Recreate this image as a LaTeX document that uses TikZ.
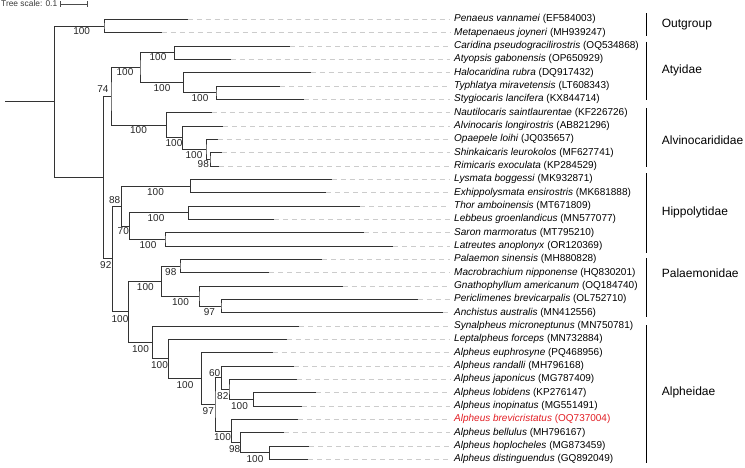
\documentclass[tikz,border=0pt]{standalone}
\usepackage{fontspec}
\setmainfont{Liberation Sans}
\usepackage{tikz}
\definecolor{hilite}{RGB}{226,30,36}

\begin{document}
\begin{tikzpicture}[x=1pt, y=-1pt,
    branch/.style={draw=black!80, line width=0.9pt},
    guide/.style={draw=black!20, line width=0.6pt, dash pattern=on 5pt off 4pt},
    boot/.style={inner sep=0pt, text=black!85, font=\fontsize{10}{12}\selectfont},
    taxon/.style={anchor=west, inner xsep=4pt, inner ysep=0pt, font=\fontsize{10}{12}\selectfont},
    cladebar/.style={draw=black, line width=1pt},
    clade/.style={anchor=west, inner sep=0pt, font=\fontsize{12}{14}\selectfont}]
  \useasboundingbox (0,0) rectangle (745,467);

  % tree scale
  \node[anchor=west, inner sep=0pt, text=black!78, font=\fontsize{8.4}{10}\selectfont] (scaletxt) at (1,3.5) {Tree scale: 0.1};
  \coordinate (scaleL) at (60,4);
  \coordinate (scaleR) at (87.3,4);
  \draw[black!70, line width=0.6pt, |-|] (scaleL) -- (scaleR);

  % tips
  \coordinate (pvan) at (187.7,19.3);
  \coordinate (mjoy) at (161.7,32.6);
  \coordinate (cpse) at (290,46);
  \coordinate (agab) at (230.7,59.3);
  \coordinate (hrub) at (310.7,72.6);
  \coordinate (tmir) at (280,86);
  \coordinate (slan) at (304,99.3);
  \coordinate (nsai) at (211.7,112.6);
  \coordinate (alon) at (223.3,126);
  \coordinate (oloi) at (217.7,139.3);
  \coordinate (sleu) at (221.7,152.6);
  \coordinate (rexo) at (219.3,166);
  \coordinate (lbog) at (331.7,179.3);
  \coordinate (eens) at (326,192.6);
  \coordinate (tamb) at (360,206);
  \coordinate (lgro) at (274.3,219.3);
  \coordinate (smar) at (364,232.6);
  \coordinate (lano) at (393.3,246);
  \coordinate (psin) at (322.3,259.3);
  \coordinate (mnip) at (269.3,272.6);
  \coordinate (game) at (342.7,286);
  \coordinate (pbre) at (417.7,299.3);
  \coordinate (aaus) at (443.3,312.6);
  \coordinate (smic) at (299.3,326);
  \coordinate (lfor) at (286.7,339.3);
  \coordinate (aeup) at (272.7,352.6);
  \coordinate (aran) at (294,366);
  \coordinate (ajap) at (296.7,379.3);
  \coordinate (alob) at (316,392.6);
  \coordinate (aino) at (301.7,406);
  \coordinate (abre) at (297.7,419.3);
  \coordinate (abel) at (284,432.6);
  \coordinate (ahop) at (309,446);
  \coordinate (adis) at (308.3,459.3);

  % inner nodes
  \coordinate (rstem) at (5,101.8);
  \coordinate (root) at (54.3,101.8);
  \coordinate (outg) at (104,26);
  \coordinate (ingr) at (103.3,177.6);
  \coordinate (atal) at (111,96.4);
  \coordinate (aty) at (140,67.6);
  \coordinate (aty1) at (174.3,52.6);
  \coordinate (aty2) at (183.3,82.6);
  \coordinate (aty3) at (216,92.6);
  \coordinate (alv) at (166.3,125.2);
  \coordinate (alv1) at (182.7,137.7);
  \coordinate (alv2) at (206,149.3);
  \coordinate (alv3) at (210,159.3);
  \coordinate (hpa) at (112.7,258.9);
  \coordinate (hip) at (121.7,206);
  \coordinate (hip1) at (190.7,186);
  \coordinate (hip2) at (129.3,226);
  \coordinate (hip3) at (188.3,212.6);
  \coordinate (hip4) at (165,239.3);
  \coordinate (paal) at (128.3,311.7);
  \coordinate (pal) at (161.7,281);
  \coordinate (pal1) at (180,266);
  \coordinate (pal2) at (199,296);
  \coordinate (pal3) at (221,306);
  \coordinate (alp) at (152.7,342.5);
  \coordinate (alp1) at (168.3,358.9);
  \coordinate (alp2) at (201.7,378.5);
  \coordinate (alp3) at (215,404.3);
  \coordinate (alp4) at (221.7,377.6);
  \coordinate (alp5) at (229,389.3);
  \coordinate (alp6) at (253.3,399.3);
  \coordinate (alp7) at (231.7,431);
  \coordinate (alp8) at (240.7,442.6);
  \coordinate (alp9) at (269.3,452.6);

  % branches
  \draw[branch] (rstem) -- (root);
  \draw[branch] (outg) -| (root) |- (ingr);
  \draw[branch] (pvan) -| (outg) |- (mjoy);
  \draw[branch] (atal) -| (ingr) |- (hpa);
  \draw[branch] (aty) -| (atal) |- (alv);
  \draw[branch] (aty1) -| (aty) |- (aty2);
  \draw[branch] (cpse) -| (aty1) |- (agab);
  \draw[branch] (hrub) -| (aty2) |- (aty3);
  \draw[branch] (tmir) -| (aty3) |- (slan);
  \draw[branch] (nsai) -| (alv) |- (alv1);
  \draw[branch] (alon) -| (alv1) |- (alv2);
  \draw[branch] (oloi) -| (alv2) |- (alv3);
  \draw[branch] (sleu) -| (alv3) |- (rexo);
  \draw[branch] (hip) -| (hpa) |- (paal);
  \draw[branch] (hip1) -| (hip) |- (hip2);
  \draw[branch] (lbog) -| (hip1) |- (eens);
  \draw[branch] (hip3) -| (hip2) |- (hip4);
  \draw[branch] (tamb) -| (hip3) |- (lgro);
  \draw[branch] (smar) -| (hip4) |- (lano);
  \draw[branch] (pal) -| (paal) |- (alp);
  \draw[branch] (pal1) -| (pal) |- (pal2);
  \draw[branch] (psin) -| (pal1) |- (mnip);
  \draw[branch] (game) -| (pal2) |- (pal3);
  \draw[branch] (pbre) -| (pal3) |- (aaus);
  \draw[branch] (smic) -| (alp) |- (alp1);
  \draw[branch] (lfor) -| (alp1) |- (alp2);
  \draw[branch] (aeup) -| (alp2) |- (alp3);
  \draw[branch] (alp4) -| (alp3) |- (alp7);
  \draw[branch] (aran) -| (alp4) |- (alp5);
  \draw[branch] (ajap) -| (alp5) |- (alp6);
  \draw[branch] (alob) -| (alp6) |- (aino);
  \draw[branch] (abre) -| (alp7) |- (alp8);
  \draw[branch] (abel) -| (alp8) |- (alp9);
  \draw[branch] (ahop) -| (alp9) |- (adis);

  % bootstrap values
  \node[boot] (b-outg) at (81.7,31) {100};
  \node[boot] (b-atal) at (103,89.5) {74};
  \node[boot] (b-aty) at (125,72.5) {100};
  \node[boot] (b-aty1) at (158,57.5) {100};
  \node[boot] (b-aty2) at (162,88) {100};
  \node[boot] (b-aty3) at (200,98) {100};
  \node[boot] (b-alv) at (138.5,130.5) {100};
  \node[boot] (b-alv1) at (174,143) {100};
  \node[boot] (b-alv2) at (194,155) {100};
  \node[boot] (b-alv3) at (203.3,164.5) {98};
  \node[boot] (b-hpa) at (105.8,265) {92};
  \node[boot] (b-hip) at (114.7,200) {88};
  \node[boot] (b-hip1) at (155.5,191.7) {100};
  \node[boot] (b-hip2) at (123.3,231.2) {70};
  \node[boot] (b-hip3) at (156,218.3) {100};
  \node[boot] (b-hip4) at (148,245.3) {100};
  \node[boot] (b-paal) at (120,319) {100};
  \node[boot] (b-pal) at (145.3,287) {100};
  \node[boot] (b-pal1) at (170.8,272) {98};
  \node[boot] (b-pal2) at (180.5,302) {100};
  \node[boot] (b-pal3) at (209.5,312) {97};
  \node[boot] (b-alp) at (140.5,348.8) {100};
  \node[boot] (b-alp1) at (159.5,365.3) {100};
  \node[boot] (b-alp2) at (185,385.3) {100};
  \node[boot] (b-alp3) at (208.3,410.8) {97};
  \node[boot] (b-alp4) at (214.7,372.8) {60};
  \node[boot] (b-alp5) at (222.8,395.8) {82};
  \node[boot] (b-alp6) at (239.5,406) {100};
  \node[boot] (b-alp7) at (222.5,436.7) {100};
  \node[boot] (b-alp8) at (234.7,449) {98};
  \node[boot] (b-alp9) at (255,459.2) {100};

  % taxon names
  \node[taxon] (t-pvan) at (450,19.3) {\textit{Penaeus vannamei} (EF584003)};
  \node[taxon] (t-mjoy) at (450,32.6) {\textit{Metapenaeus joyneri} (MH939247)};
  \node[taxon] (t-cpse) at (450,46) {\textit{Caridina pseudogracilirostris} (OQ534868)};
  \node[taxon] (t-agab) at (450,59.3) {\textit{Atyopsis gabonensis} (OP650929)};
  \node[taxon] (t-hrub) at (450,72.6) {\textit{Halocaridina rubra} (DQ917432)};
  \node[taxon] (t-tmir) at (450,86) {\textit{Typhlatya miravetensis} (LT608343)};
  \node[taxon] (t-slan) at (450,99.3) {\textit{Stygiocaris lancifera} (KX844714)};
  \node[taxon] (t-nsai) at (450,112.6) {\textit{Nautilocaris saintlaurentae} (KF226726)};
  \node[taxon] (t-alon) at (450,126) {\textit{Alvinocaris longirostris} (AB821296)};
  \node[taxon] (t-oloi) at (450,139.3) {\textit{Opaepele loihi} (JQ035657)};
  \node[taxon] (t-sleu) at (450,152.6) {\textit{Shinkaicaris leurokolos} (MF627741)};
  \node[taxon] (t-rexo) at (450,166) {\textit{Rimicaris exoculata} (KP284529)};
  \node[taxon] (t-lbog) at (450,179.3) {\textit{Lysmata boggessi} (MK932871)};
  \node[taxon] (t-eens) at (450,192.6) {\textit{Exhippolysmata ensirostris} (MK681888)};
  \node[taxon] (t-tamb) at (450,206) {\textit{Thor amboinensis} (MT671809)};
  \node[taxon] (t-lgro) at (450,219.3) {\textit{Lebbeus groenlandicus} (MN577077)};
  \node[taxon] (t-smar) at (450,232.6) {\textit{Saron marmoratus} (MT795210)};
  \node[taxon] (t-lano) at (450,246) {\textit{Latreutes anoplonyx} (OR120369)};
  \node[taxon] (t-psin) at (450,259.3) {\textit{Palaemon sinensis} (MH880828)};
  \node[taxon] (t-mnip) at (450,272.6) {\textit{Macrobrachium nipponense} (HQ830201)};
  \node[taxon] (t-game) at (450,286) {\textit{Gnathophyllum americanum} (OQ184740)};
  \node[taxon] (t-pbre) at (450,299.3) {\textit{Periclimenes brevicarpalis} (OL752710)};
  \node[taxon] (t-aaus) at (450,312.6) {\textit{Anchistus australis} (MN412556)};
  \node[taxon] (t-smic) at (450,326) {\textit{Synalpheus microneptunus} (MN750781)};
  \node[taxon] (t-lfor) at (450,339.3) {\textit{Leptalpheus forceps} (MN732884)};
  \node[taxon] (t-aeup) at (450,352.6) {\textit{Alpheus euphrosyne} (PQ468956)};
  \node[taxon] (t-aran) at (450,366) {\textit{Alpheus randalli} (MH796168)};
  \node[taxon] (t-ajap) at (450,379.3) {\textit{Alpheus japonicus} (MG787409)};
  \node[taxon] (t-alob) at (450,392.6) {\textit{Alpheus lobidens} (KP276147)};
  \node[taxon] (t-aino) at (450,406) {\textit{Alpheus inopinatus} (MG551491)};
  \node[taxon, text=hilite] (t-abre) at (450,419.3) {\textit{Alpheus brevicristatus} (OQ737004)};
  \node[taxon] (t-abel) at (450,432.6) {\textit{Alpheus bellulus} (MH796167)};
  \node[taxon] (t-ahop) at (450,446) {\textit{Alpheus hoplocheles} (MG873459)};
  \node[taxon] (t-adis) at (450,459.3) {\textit{Alpheus distinguendus} (GQ892049)};

  % dashed guides, tip to name
  \draw[guide] (pvan) -- (t-pvan); \draw[guide] (mjoy) -- (t-mjoy);
  \draw[guide] (cpse) -- (t-cpse); \draw[guide] (agab) -- (t-agab);
  \draw[guide] (hrub) -- (t-hrub); \draw[guide] (tmir) -- (t-tmir);
  \draw[guide] (slan) -- (t-slan); \draw[guide] (nsai) -- (t-nsai);
  \draw[guide] (alon) -- (t-alon); \draw[guide] (oloi) -- (t-oloi);
  \draw[guide] (sleu) -- (t-sleu); \draw[guide] (rexo) -- (t-rexo);
  \draw[guide] (lbog) -- (t-lbog); \draw[guide] (eens) -- (t-eens);
  \draw[guide] (tamb) -- (t-tamb); \draw[guide] (lgro) -- (t-lgro);
  \draw[guide] (smar) -- (t-smar); \draw[guide] (lano) -- (t-lano);
  \draw[guide] (psin) -- (t-psin); \draw[guide] (mnip) -- (t-mnip);
  \draw[guide] (game) -- (t-game); \draw[guide] (pbre) -- (t-pbre);
  \draw[guide] (aaus) -- (t-aaus); \draw[guide] (smic) -- (t-smic);
  \draw[guide] (lfor) -- (t-lfor); \draw[guide] (aeup) -- (t-aeup);
  \draw[guide] (aran) -- (t-aran); \draw[guide] (ajap) -- (t-ajap);
  \draw[guide] (alob) -- (t-alob); \draw[guide] (aino) -- (t-aino);
  \draw[guide] (abre) -- (t-abre); \draw[guide] (abel) -- (t-abel);
  \draw[guide] (ahop) -- (t-ahop); \draw[guide] (adis) -- (t-adis);

  % clades
  \draw[cladebar] (646,13.3) -- (646,36);
  \node[clade] (outgroup) at (661.7,25) {Outgroup};
  \draw[cladebar] (646,41.7) -- (646,100);
  \node[clade] (atyidae) at (661.7,70) {Atyidae};
  \draw[cladebar] (646,108.3) -- (646,166.7);
  \node[clade] (alvino) at (661.7,140) {Alvinocarididae};
  \draw[cladebar] (646,173.3) -- (646,253.3);
  \node[clade] (hippo) at (661.7,212) {Hippolytidae};
  \draw[cladebar] (646,258.3) -- (646,316.7);
  \node[clade] (palaemon) at (661.7,273) {Palaemonidae};
  \draw[cladebar] (646,325) -- (646,463.3);
  \node[clade] (alpheid) at (661.7,392.6) {Alpheidae};

\end{tikzpicture}
\end{document}
